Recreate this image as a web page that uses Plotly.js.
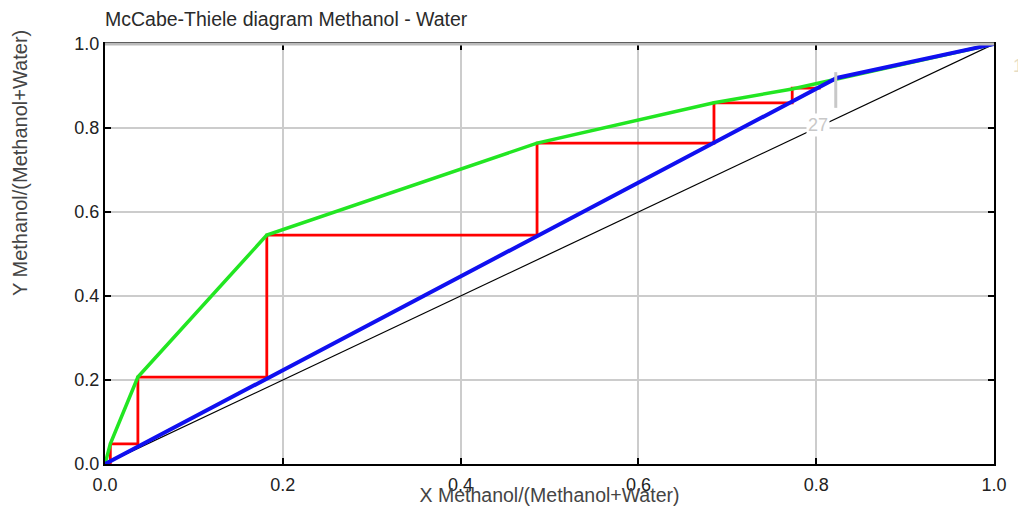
<!DOCTYPE html>
<html>
<head>
<meta charset="utf-8">
<script src="https://cdn.plot.ly/plotly-3.0.1.min.js"></script>
<style>html,body{margin:0;padding:0;background:#fff;}#chart{width:1018px;height:506px;}</style>
</head>
<body>
<div id="chart"></div>
<script>
// Equilibrium curve (green)
const eqX = [0, 0.006, 0.037, 0.182, 0.486, 0.685, 0.773, 1.0];
const eqY = [0, 0.048, 0.207, 0.545, 0.764, 0.860, 0.893, 1.0];
// Operating line (blue)
const opX = [0, 0.823, 1.0];
const opY = [0, 0.919, 1.0];
// Stage steps (red staircase)
const stepX = [0.006, 0.006, 0.037, 0.037, 0.182, 0.182, 0.486, 0.486, 0.685, 0.685, 0.773, 0.773, 0.805];
const stepY = [0.0, 0.048, 0.048, 0.207, 0.207, 0.545, 0.545, 0.764, 0.764, 0.860, 0.860, 0.895, 0.895];
// Diagonal y = x
const diagX = [0, 1];
const diagY = [0, 1];
// Tick values
const tickVals = [0, 0.2, 0.4, 0.6, 0.8, 1.0];
const tickText = ["0.0", "0.2", "0.4", "0.6", "0.8", "1.0"];

const font = "Liberation Sans, Arial, sans-serif";

const traces = [
  {x: diagX, y: diagY, mode: 'lines', line: {color: '#000', width: 1.2}, hoverinfo: 'skip'},
  {x: stepX, y: stepY, mode: 'lines', line: {color: '#ff0000', width: 2.8}, hoverinfo: 'skip'},
  {x: eqX, y: eqY, mode: 'lines', line: {color: '#22e622', width: 3.5}, hoverinfo: 'skip'},
  {x: opX, y: opY, mode: 'lines', line: {color: '#1010f0', width: 4}, hoverinfo: 'skip'}
];

const axisCommon = {
  range: [0, 1], tickvals: tickVals, ticktext: tickText,
  showgrid: true, gridcolor: '#cccccc', gridwidth: 2,
  showline: true, linecolor: '#000', linewidth: 2,
  ticks: 'inside', ticklen: 6, tickwidth: 2, tickcolor: '#000',
  mirror: 'ticks', zeroline: false, fixedrange: true,
  tickfont: {family: font, size: 18, color: '#222'}
};

const layout = {
  width: 1018, height: 506,
  margin: {l: 105, r: 24, t: 44, b: 42},
  paper_bgcolor: '#fff', plot_bgcolor: '#fff',
  showlegend: false,
  title: {text: 'McCabe-Thiele diagram Methanol - Water', x: 105/1018, xanchor: 'left', y: 1 - 19/506, yanchor: 'middle',
          font: {family: font, size: 19.5, color: '#2a2a2a'}},
  xaxis: Object.assign({}, axisCommon, {
    ticklabelstandoff: 3,
    title: {text: 'X Methanol/(Methanol+Water)', standoff: 0, font: {family: font, size: 19.5, color: '#444'}}
  }),
  yaxis: Object.assign({}, axisCommon, {
    title: {text: '', font: {family: font, size: 19, color: '#444'}}
  }),
  shapes: [
    {type: 'line', xref: 'paper', yref: 'paper', x0: 0, x1: 1, y0: 1, y1: 1, line: {color: '#bbbbbb', width: 3}, layer: 'above'},
    {type: 'line', xref: 'x', yref: 'y', x0: 0.822, x1: 0.822, y0: 0.848, y1: 0.933, line: {color: '#c8c8c8', width: 3}, layer: 'above'}
  ],
  annotations: [
    {text: 'Y Methanol/(Methanol+Water)', xref: 'paper', yref: 'paper', x: -85/889, y: (464-163)/420, textangle: -90,
     showarrow: false, xanchor: 'center', yanchor: 'middle', font: {family: font, size: 20, color: '#444'}},
    {text: '27', xref: 'x', yref: 'y', x: 0.802, y: 0.807, showarrow: false, xanchor: 'center', yanchor: 'middle',
     font: {family: font, size: 18, color: '#c8c8c8'}, bgcolor: '#fff'},
    {text: '1', xref: 'paper', yref: 'paper', x: (1011-105)/889, y: (464-66)/420, showarrow: false, xanchor: 'left', yanchor: 'middle',
     font: {family: font, size: 18, color: '#e6dcc4'}}
  ]
};

Plotly.newPlot('chart', traces, layout, {staticPlot: true, displayModeBar: false});
</script>
</body>
</html>
